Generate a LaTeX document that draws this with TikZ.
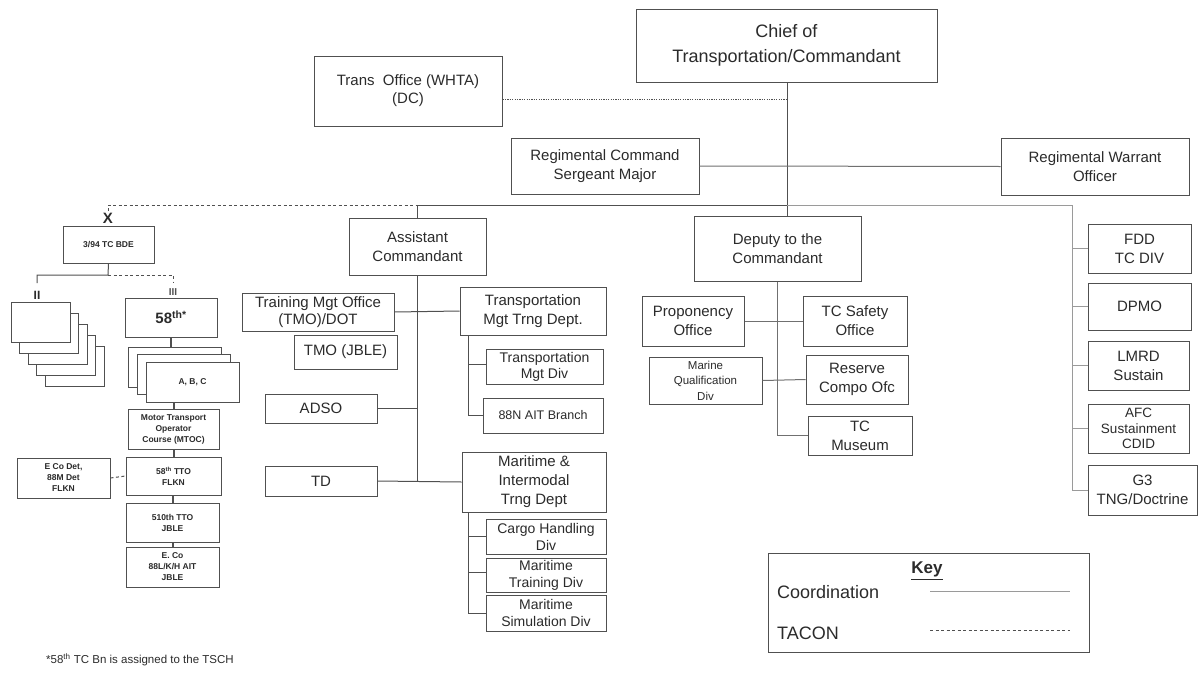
\documentclass[tikz,border=0pt]{standalone}
\usepackage{fontspec}
\setmainfont{Liberation Sans}
\definecolor{txt}{HTML}{2B2B2B}
\definecolor{edge}{HTML}{505050}
\definecolor{lline}{HTML}{9A9A9A}
\definecolor{mline}{HTML}{707070}
\newcommand{\fsz}[2]{\fontsize{#1}{#2}\selectfont}
\begin{document}
\begin{tikzpicture}[x=1pt,y=-1pt,
  box/.style={draw=edge, line width=1pt, fill=white, inner sep=0pt, align=center, text=txt},
  dim/.style 2 args={minimum width=#1pt, minimum height=#2pt},
  conn/.style={draw=edge, line width=1pt},
  heavy/.style={draw=edge, line width=2pt},
  light/.style={draw=lline, line width=1pt},
  medium/.style={draw=mline, line width=1pt},
  tacon/.style={draw=edge, line width=1pt, dash pattern=on 3pt off 2.5pt},
  fine dots/.style={draw=edge, line width=0.8pt, dash pattern=on 1.2pt off 1.2pt},
  lbl/.style={text=txt, inner sep=0pt}
]
% canvas
\fill[white] (0,0) rectangle (1199,672);
\useasboundingbox (0,0) rectangle (1199,672);

% ---- top command group ----
\node[box, dim={301}{73}, font=\fsz{18}{25}] (chief) at (786.5,45.5) {Chief of\\Transportation/Commandant};
\node[box, dim={188}{70}, font=\fsz{15}{18}] (trans) at (408,91) {Trans\ \ Office (WHTA)\\(DC)};
\node[box, dim={188}{56}, font=\fsz{15}{19}] (rcsm) at (605,166) {Regimental Command\\Sergeant Major};
\node[box, dim={188}{57}, font=\fsz{15}{19}] (rwo) at (1095,166.5) {Regimental Warrant\\Officer};

% ---- bus junctions ----
\coordinate (xtick) at (108,211);
\coordinate (busL) at (108,205);
\coordinate (busA) at (417.5,205);
\coordinate (busD) at (787,205);
\coordinate (busR) at (1072,205);

% ---- Assistant Commandant branch ----
\node[box, dim={137}{57}, font=\fsz{15}{19}] (asst) at (417.5,246.5) {Assistant\\Commandant};
\node[box, dim={152}{38}, font=\fsz{15}{17}] (tmo) at (318,312) {Training Mgt Office\\(TMO)/DOT};
\node[box, dim={103}{34}, font=\fsz{15}{17}] (tmojble) at (345.5,352) {TMO (JBLE)};
\node[box, dim={146}{48}, font=\fsz{15}{19}] (tmtd) at (533,311) {Transportation\\Mgt Trng Dept.};
\node[box, dim={117}{35}, font=\fsz{14}{16}] (tmdiv) at (544.5,366.5) {Transportation\\Mgt Div};
\node[box, dim={120}{35}, font=\fsz{12.5}{15}] (aitb) at (543,415.5) {88N AIT Branch};
\node[box, dim={112}{29}, font=\fsz{15}{17}] (adso) at (321,408.5) {ADSO};
\node[box, dim={112}{30}, font=\fsz{15}{17}] (td) at (321,481) {TD};
\node[box, dim={144}{60}, font=\fsz{15}{19}] (mitd) at (534,482) {Maritime \&\\Intermodal\\Trng Dept};
\node[box, dim={120}{35}, font=\fsz{14}{17}] (cargo) at (546,536.5) {Cargo Handling\\Div};
\node[box, dim={120}{34}, font=\fsz{14}{17}] (mtrain) at (546,575) {Maritime\\Training Div};
\node[box, dim={120}{36}, font=\fsz{14}{17}] (msim) at (546,613) {Maritime\\Simulation Div};

% ---- Deputy branch ----
\node[box, dim={167}{65}, font=\fsz{15}{19}] (deputy) at (777.5,248.5) {Deputy to the\\Commandant};
\node[box, dim={102}{50}, font=\fsz{15}{19}] (propon) at (693,321) {Proponency\\Office};
\node[box, dim={104}{50}, font=\fsz{15}{19}] (safety) at (855,321) {TC Safety\\Office};
\node[box, dim={113}{47}, font=\fsz{11.5}{15.5}] (marine) at (705.5,380.5) {Marine\\Qualification\\Div};
\node[box, dim={102}{49}, font=\fsz{15}{19}] (reserve) at (857,379.5) {Reserve\\Compo Ofc};
\node[box, dim={104}{39}, font=\fsz{15}{19}] (museum) at (860,435.5) {TC\\Museum};

% ---- right column ----
\node[box, dim={103}{49}, font=\fsz{15}{19}] (fdd) at (1139.5,248.5) {FDD\\TC DIV};
\node[box, dim={103}{47}, font=\fsz{15}{19}] (dpmo) at (1139.5,306.5) {DPMO};
\node[box, dim={101}{49}, font=\fsz{15}{19}] (lmrd) at (1138.5,365.5) {LMRD\\Sustain};
\node[box, dim={101}{49}, font=\fsz{13.5}{15.5}] (afc) at (1138.5,428.5) {AFC\\Sustainment\\CDID};
\node[box, dim={109}{50}, font=\fsz{15}{19}] (g3) at (1142.5,490) {G3\\TNG/Doctrine};

% ---- brigade column ----
\node[lbl, font=\bfseries\fsz{15}{15}] (xlab) at (108,218.5) {X};
\node[box, dim={91}{37}, font=\bfseries\fsz{8.5}{10}] (bde) at (108.5,244.5) {3/94 TC BDE};
\node[lbl, font=\bfseries\fsz{12}{12}] (iilab) at (37,295) {II};
\node[lbl, font=\bfseries\fsz{10}{10}, text=edge] (iiilab) at (173,292) {III};
\foreach \k in {4,3,2,1,0}
  \node[box, dim={59}{40}] (bn\k) at (40.5+8.5*\k,322+11*\k) {};
\node[box, dim={92}{39}, font=\bfseries\fsz{15}{15}] (b58) at (171,317.5) {58\textsuperscript{th*}};
\foreach \k in {0,1,2}
  \node[box, dim={93}{40}] (abc\k) at (174.5+9*\k,367+7.5*\k) {};
\node[lbl, font=\bfseries\fsz{8.5}{10}] (abct) at (abc2) {A, B, C};
\node[box, dim={91}{40}, font=\bfseries\fsz{8.5}{11}] (mtoc) at (173.5,429) {Motor Transport\\Operator\\Course (MTOC)};
\node[box, dim={95}{38}, font=\bfseries\fsz{8.5}{11}] (tto58) at (173.5,476) {58\textsuperscript{th} TTO\\FLKN};
\node[box, dim={93}{40}, font=\bfseries\fsz{8.5}{11}] (eco) at (63.5,478) {E Co Det,\\88M Det\\FLKN};
\node[box, dim={93}{39}, font=\bfseries\fsz{8.5}{11}] (tto510) at (172.5,522.5) {510th TTO\\JBLE};
\node[box, dim={93}{40}, font=\bfseries\fsz{8.5}{11}] (eco2) at (172.5,567) {E. Co\\88L/K/H AIT\\JBLE};

% ---- connectors: command group ----
\draw[conn] (chief.south -| busD) -- (deputy.north -| busD);
\draw[fine dots] ([yshift=-8pt]trans.east) -- ([yshift=-8pt]trans.east -| busD);
\draw[medium] (rcsm.east) -- (rwo.west);

% ---- main bus ----
\draw[tacon] (xtick) -- (busL) -- (busA);
\draw[conn] (busA) -- (busD);
\draw[light] (busD) -- (busR) -- (g3.west -| busR) -- (g3.west);
\draw[conn] (busA) -- (asst.north);

% ---- assistant commandant connectors ----
\draw[conn] (asst.south) -- (asst.south |- td.east);
\draw[conn] (tmo.east) -- (tmtd.west);
\draw[conn] (adso.east) -- (adso.east -| asst.south);
\draw[conn] (td.east) -- (mitd.west);
\coordinate (tmx) at (468,335);
\draw[conn] (tmtd.south -| tmx) -- (aitb.west -| tmx) -- (aitb.west);
\draw[conn] ([yshift=2pt]tmdiv.west -| tmx) -- ([yshift=2pt]tmdiv.west);
\coordinate (mix) at (468,512);
\draw[conn] (mitd.south -| mix) -- (msim.west -| mix) -- (msim.west);
\draw[conn] (cargo.west -| mix) -- (cargo.west);
\draw[conn] ([yshift=3pt]mtrain.west -| mix) -- ([yshift=3pt]mtrain.west);

% ---- deputy connectors ----
\coordinate (dx) at (777,281);
\draw[medium] (deputy.south -| dx) -- (museum.west -| dx) -- (museum.west);
\draw[medium] (propon.east) -- (safety.west);
\draw[medium] (marine.east) -- (reserve.west);

% ---- right column connectors ----
\foreach \n in {fdd,dpmo,lmrd,afc}
  \draw[light] (\n.west -| busR) -- (\n.west);

% ---- brigade connectors ----
\coordinate (bj) at (108,275);
\coordinate (iiTop) at (37,283);
\coordinate (iiiTop) at (173,283);
\draw[conn] (bde.south) -- (bj) -| (iiTop);
\draw[tacon] (bj) -| (iiiTop);
\draw[heavy] (b58.south) -- (b58.south |- abc0.north);
\draw[heavy] (mtoc.north) -- (mtoc.north |- abc2.south);
\draw[heavy] (mtoc.south) -- (tto58.north);
\draw[heavy] (tto510.north) -- (tto510.north |- tto58.south);
\draw[heavy] (eco2.north) -- (eco2.north |- tto510.south);
\draw[tacon] (eco.east) -- (tto58.west);

% ---- legend ----
\node[box, dim={321}{99}] (key) at (928.5,602.5) {};
\node[lbl, font=\bfseries\fsz{17}{17}, anchor=north] (keyt) at (927,562) {\underline{Key}};
\node[lbl, font=\fsz{18}{18}, anchor=west] (coordt) at (777,592) {Coordination};
\node[lbl, font=\fsz{18}{18}, anchor=west] (tacont) at (777,633) {TACON};
\coordinate (k1) at (930,591);
\coordinate (k2) at (1070,591);
\coordinate (k3) at (930,630);
\coordinate (k4) at (1070,630);
\draw[light] (k1) -- (k2);
\draw[tacon] (k3) -- (k4);

% ---- footnote ----
\node[lbl, font=\fsz{11.5}{13}, anchor=west] (note) at (46,660) {*58\textsuperscript{th} TC Bn is assigned to the TSCH};
\end{tikzpicture}
\end{document}
